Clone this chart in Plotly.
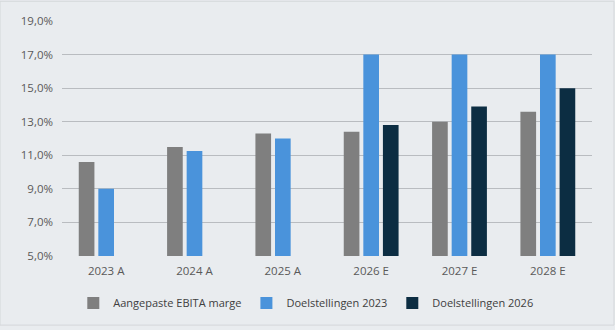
import plotly.graph_objects as go

categories = ["2023 A", "2024 A", "2025 A", "2026 E", "2027 E", "2028 E"]
ebita = [10.6, 11.5, 12.3, 12.4, 13.0, 13.6]
doel_2023 = [9.0, 11.25, 12.0, 17.0, 17.0, 17.0]
doel_2026 = [None, None, None, 12.8, 13.9, 15.0]
series_names = ["Aangepaste EBITA marge", "Doelstellingen 2023", "Doelstellingen 2026"]
colors = ["#7f7f7f", "#4a93db", "#0c2d42"]

fig = go.Figure()
for name, vals, col in zip(series_names, [ebita, doel_2023, doel_2026], colors):
    fig.add_trace(go.Bar(
        x=categories,
        y=[v / 100 if v is not None else None for v in vals],
        name=name,
        marker=dict(color=col, line=dict(width=0)),
    ))

fig.update_layout(
    width=615, height=330,
    barmode="group",
    bargap=0.335,
    bargroupgap=0.2,
    separators=",.",
    paper_bgcolor="#e9ecef",
    plot_bgcolor="#e9ecef",
    margin=dict(l=62, r=23, t=21, b=71),
    font=dict(family="Open Sans, Noto Sans, sans-serif", size=11.5, color="#595959"),
    yaxis=dict(
        range=[0.05, 0.19],
        tick0=0.05, dtick=0.02,
        tickformat=".1%",
        showgrid=True, gridcolor="#b9bcc0", gridwidth=1,
        zeroline=False, showline=False,
        ticks="", ticklen=0,
        ticklabelstandoff=8,
        tickfont=dict(size=11.5, color="#595959"),
    ),
    xaxis=dict(
        showgrid=False, showline=False, zeroline=False, ticks="",
        ticklabelstandoff=6,
        tickfont=dict(size=11.5, color="#595959"),
    ),
    legend=dict(
        orientation="h",
        x=0.46, xanchor="center",
        y=-0.2, yanchor="middle",
        font=dict(size=11, color="#404040"),
        itemwidth=30,
        bgcolor="rgba(0,0,0,0)",
    ),
    shapes=[dict(
        type="rect", xref="paper", yref="paper",
        x0=-62/530, x1=1 + 22/530, y0=-70/238, y1=1 + 20/238,
        line=dict(color="#d4d7da", width=1), fillcolor="rgba(0,0,0,0)",
        layer="below",
    )],
)

fig.write_html("out.html")
